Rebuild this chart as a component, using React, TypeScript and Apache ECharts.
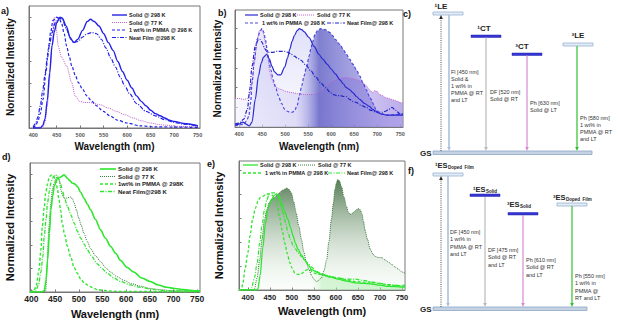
import React, { useEffect, useRef } from 'react';
import * as echarts from 'echarts';

type P = [number, number][];
const FONT = 'Liberation Sans, Arial, sans-serif';

const xTicks = [400, 450, 500, 550, 600, 650, 700, 750];
const yTicks = [0.2, 0.4, 0.6, 0.8, 1.0];
const xTitle = 'Wavelength (nm)';
const yTitle = 'Normalized Intensity';

// ---- panel a
const aSolid298: P = [[400,0],[415,0],[420,0.02],[425,0.08],[430,0.25],[435,0.5],[440,0.74],[445,0.87],[450,0.95],[457,1.0],[462,0.99],[470,0.92],[480,0.8],[487,0.77],[495,0.8],[505,0.88],[515,0.96],[522,0.98],[530,0.96],[540,0.92],[550,0.85],[560,0.77],[570,0.7],[580,0.6],[590,0.51],[600,0.43],[610,0.36],[620,0.29],[630,0.24],[640,0.2],[650,0.16],[660,0.13],[670,0.11],[680,0.09],[690,0.07],[700,0.06],[720,0.04],[750,0.02]];
const aSolid77: P = [[400,0],[420,0.01],[425,0.05],[430,0.2],[435,0.45],[440,0.75],[445,1.0],[449,0.9],[453,0.74],[460,0.64],[471,0.56],[482,0.41],[489,0.29],[499,0.24],[510,0.23],[521,0.23],[530,0.22],[542,0.21],[560,0.18],[577,0.15],[595,0.12],[613,0.09],[630,0.065],[649,0.045],[670,0.03],[684,0.025],[710,0.015],[750,0.01]];
const aPmma298: P = [[400,0],[405,0.02],[410,0.06],[415,0.13],[421,0.26],[427,0.5],[432,0.71],[437,0.86],[442,0.97],[450,1.0],[455,0.99],[460,0.95],[466,0.85],[471,0.74],[477,0.64],[482,0.56],[490,0.47],[496,0.41],[505,0.35],[514,0.29],[525,0.24],[535,0.2],[549,0.15],[563,0.11],[580,0.07],[599,0.045],[627,0.02],[660,0.01],[750,0.005]];
const aNeat298: P = [[400,0.01],[405,0.04],[410,0.1],[415,0.2],[420,0.33],[425,0.48],[430,0.63],[435,0.76],[440,0.86],[447,0.95],[455,0.99],[462,0.98],[470,0.9],[478,0.82],[486,0.77],[495,0.78],[505,0.82],[515,0.85],[525,0.86],[535,0.85],[545,0.8],[555,0.72],[565,0.63],[575,0.55],[585,0.46],[595,0.38],[605,0.31],[620,0.22],[640,0.15],[660,0.11],[680,0.075],[700,0.05],[720,0.035],[750,0.02]];

// ---- panel b
const bSolid298: P = [[391,0.02],[400,0.03],[408,0.05],[415,0.03],[422,0.01],[428,0.05],[435,0.28],[442,0.52],[448,0.65],[453,0.71],[460,0.74],[466,0.69],[471,0.62],[477,0.56],[484,0.53],[490,0.53],[499,0.61],[505,0.7],[510,0.79],[515,0.87],[520,0.93],[526,0.98],[531,1.0],[536,0.99],[541,0.97],[552,0.91],[563,0.82],[573,0.74],[582,0.69],[591,0.64],[600,0.59],[609,0.54],[619,0.48],[626,0.44],[633,0.4],[640,0.38],[647,0.35],[655,0.31],[662,0.28],[672,0.24],[683,0.21],[690,0.18],[697,0.16],[704,0.14],[711,0.13],[722,0.12],[732,0.12],[750,0.12],[756,0.12]];
const bSolid77: P = [[391,0.29],[400,0.29],[410,0.28],[418,0.29],[424,0.35],[428,0.45],[433,0.65],[439,0.89],[444,0.98],[448,1.0],[452,0.96],[457,0.86],[462,0.72],[467,0.55],[472,0.47],[478,0.42],[485,0.39],[492,0.38],[502,0.36],[513,0.35],[527,0.34],[541,0.33],[552,0.33],[563,0.33],[572,0.35],[580,0.37],[589,0.41],[598,0.45],[605,0.47],[612,0.48],[619,0.49],[626,0.5],[636,0.5],[647,0.49],[655,0.48],[662,0.47],[669,0.45],[676,0.42],[683,0.38],[690,0.35],[694,0.37],[700,0.36],[705,0.33],[711,0.32],[718,0.3],[725,0.29],[732,0.28],[739,0.27],[745,0.26],[750,0.25],[756,0.24]];
const bPmma298: P = [[391,0.01],[400,0.02],[410,0.03],[416,0.06],[421,0.11],[425,0.25],[428,0.45],[433,0.68],[439,0.89],[446,0.98],[450,1.0],[454,0.96],[457,0.89],[461,0.79],[464,0.69],[469,0.58],[474,0.48],[480,0.39],[485,0.32],[492,0.24],[499,0.18],[505,0.16],[510,0.15],[515,0.15],[520,0.16],[526,0.22],[531,0.32],[536,0.42],[541,0.52],[547,0.62],[552,0.72],[556,0.8],[559,0.86],[565,0.94],[570,0.98],[577,1.0],[587,0.99],[598,0.96],[603,0.93],[609,0.89],[619,0.84],[626,0.79],[633,0.74],[640,0.69],[647,0.64],[655,0.58],[662,0.52],[669,0.45],[676,0.38],[683,0.31],[687,0.28],[692,0.23],[697,0.18],[704,0.15],[711,0.13],[725,0.12],[740,0.125],[750,0.13],[756,0.13]];
const bNeat298: P = [[391,0.03],[400,0.04],[410,0.08],[418,0.18],[423,0.38],[428,0.62],[435,0.82],[442,0.89],[446,0.89],[450,0.86],[455,0.8],[460,0.77],[466,0.76],[474,0.76],[482,0.77],[490,0.77],[499,0.77],[506,0.76],[513,0.74],[520,0.72],[527,0.7],[534,0.68],[545,0.63],[556,0.57],[566,0.51],[577,0.45],[588,0.4],[598,0.35],[605,0.33],[612,0.32],[620,0.32],[627,0.31],[633,0.31],[640,0.28],[647,0.26],[654,0.25],[665,0.22],[676,0.2],[686,0.17],[697,0.15],[704,0.15],[711,0.15],[718,0.16],[725,0.18],[732,0.2],[740,0.17],[750,0.13],[756,0.13]];

// ---- panel d
const dSolid298: P = [[397,0],[420,0],[427,0.01],[431,0.1],[434,0.27],[438,0.5],[441,0.7],[445,0.82],[448,0.9],[452,0.94],[455,0.97],[462,0.98],[469,1.0],[476,0.97],[481,0.95],[486,0.93],[492,0.92],[497,0.9],[504,0.85],[511,0.8],[518,0.75],[525,0.7],[535,0.62],[546,0.53],[556,0.46],[567,0.39],[578,0.33],[588,0.27],[602,0.21],[616,0.17],[633,0.12],[651,0.09],[668,0.06],[686,0.04],[703,0.03],[721,0.02],[750,0.01],[756,0.01]];
const dSolid77: P = [[397,0],[425,0],[430,0.01],[433,0.2],[437,0.56],[441,0.75],[444,0.87],[448,0.93],[451,0.96],[456,0.99],[459,0.95],[462,0.87],[466,0.82],[469,0.8],[473,0.8],[476,0.8],[480,0.81],[483,0.81],[487,0.79],[490,0.76],[495,0.7],[500,0.63],[505,0.57],[511,0.5],[518,0.43],[525,0.37],[535,0.31],[546,0.26],[556,0.21],[567,0.17],[581,0.13],[595,0.1],[612,0.07],[630,0.05],[651,0.03],[672,0.02],[700,0.01],[756,0.01]];
const dPmma298: P = [[397,0],[405,0.01],[410,0.05],[416,0.19],[420,0.36],[423,0.56],[427,0.72],[430,0.84],[434,0.92],[437,0.97],[441,0.995],[444,1.0],[448,0.98],[451,0.96],[455,0.88],[458,0.79],[462,0.69],[465,0.59],[470,0.49],[476,0.39],[483,0.3],[490,0.21],[497,0.16],[504,0.11],[511,0.08],[518,0.06],[528,0.04],[539,0.02],[560,0.01],[581,0.005],[756,0]];
const dNeat298: P = [[397,0],[409,0.01],[415,0.06],[420,0.17],[424,0.3],[427,0.47],[431,0.62],[434,0.76],[438,0.86],[441,0.93],[445,0.97],[448,0.99],[451,1.0],[455,0.98],[458,0.96],[462,0.92],[465,0.87],[470,0.8],[476,0.73],[483,0.66],[490,0.59],[497,0.52],[504,0.46],[511,0.41],[518,0.36],[528,0.3],[539,0.24],[549,0.2],[560,0.16],[574,0.12],[588,0.09],[609,0.06],[630,0.04],[658,0.02],[686,0.01],[756,0.005]];

// ---- panel e
const eSolid298: P = [[380,0],[420,0],[423,0.01],[428,0.12],[434,0.35],[440,0.55],[446,0.68],[453,0.75],[461,0.79],[465,0.8],[470,0.79],[476,0.73],[483,0.66],[491,0.59],[497,0.52],[503,0.45],[508,0.39],[514,0.34],[522,0.29],[529,0.25],[537,0.21],[545,0.17],[556,0.15],[567,0.13],[586,0.11],[605,0.09],[624,0.075],[644,0.06],[663,0.055],[682,0.05],[700,0.04],[720,0.03],[750,0.025],[757,0.025]];
const eSolid77: P = [[380,0],[412,0],[415,0.01],[421,0.1],[427,0.25],[432,0.42],[438,0.59],[443,0.67],[449,0.73],[455,0.76],[461,0.77],[466,0.79],[472,0.81],[478,0.83],[484,0.84],[488,0.85],[493,0.84],[499,0.81],[504,0.74],[510,0.64],[516,0.53],[522,0.42],[527,0.32],[533,0.23],[539,0.17],[545,0.12],[550,0.09],[556,0.07],[561,0.08],[567,0.1],[573,0.16],[579,0.25],[584,0.4],[590,0.59],[594,0.72],[598,0.84],[601,0.89],[604,0.92],[608,0.91],[613,0.86],[618,0.78],[624,0.7],[628,0.65],[632,0.63],[638,0.64],[644,0.66],[651,0.68],[655,0.67],[659,0.64],[663,0.57],[666,0.5],[672,0.42],[678,0.34],[684,0.3],[689,0.28],[697,0.27],[704,0.27],[712,0.25],[720,0.23],[728,0.21],[735,0.19],[743,0.17],[750,0.15],[757,0.14]];
const ePmma298: P = [[380,0],[385,0],[389,0.06],[394,0.18],[400,0.31],[405,0.45],[411,0.59],[417,0.68],[423,0.74],[428,0.77],[434,0.78],[442,0.8],[449,0.8],[455,0.79],[461,0.77],[466,0.72],[472,0.61],[478,0.5],[484,0.39],[490,0.3],[495,0.23],[501,0.18],[507,0.14],[513,0.13],[518,0.13],[524,0.14],[529,0.16],[535,0.17],[541,0.17],[547,0.15],[552,0.14],[560,0.13],[567,0.13],[586,0.11],[605,0.1],[624,0.085],[644,0.07],[663,0.065],[682,0.065],[700,0.055],[720,0.04],[740,0.035],[757,0.04]];
const eNeat298: P = [[380,0],[405,0],[408,0.01],[415,0.1],[421,0.22],[427,0.39],[432,0.53],[438,0.67],[443,0.75],[449,0.8],[455,0.81],[461,0.81],[465,0.8],[469,0.78],[474,0.72],[480,0.64],[486,0.56],[491,0.48],[497,0.42],[503,0.37],[509,0.34],[514,0.31],[522,0.28],[529,0.25],[537,0.22],[545,0.19],[554,0.16],[564,0.14],[580,0.12],[605,0.1],[624,0.09],[644,0.09],[663,0.08],[682,0.065],[700,0.055],[720,0.045],[750,0.035],[757,0.035]];

const legendA = ['Solid @ 298 K', 'Solid @ 77 K', '1 wt% in PMMA @ 298 K', 'Neat Film @298 K'];
const legendB = ['Solid @ 298 K', 'Solid @ 77 K', '1 wt% in PMMA @ 298 K', 'Neat Film@ 298 K'];
const legendD = ['Solid @ 298 K', 'Solid @ 77 K', '1wt% in PMMA @ 298K', 'Neat Film@298 K'];
const legendE = ['Solid @ 298 K', 'Solid @ 77 K', '1 wt% in PMMA @ 298 K', 'Neat Film@ 298 K'];

const DASH = [3, 2];
const DOT = [1, 1];
const DASHDOT = [4, 1.5, 1, 1.5];

const BLUE = '#2222e6';
const MAG = '#c060d0';
const GREEN = '#2ee62e';
const DKGREEN = '#3a7a3a';

const grids = [
  { left: 29, top: 6, width: 171, height: 122 },
  { left: 235, top: 10, width: 168, height: 117 },
  { left: 30, top: 163, width: 170, height: 129 },
  { left: 239, top: 161, width: 166, height: 129 },
];
const xr = [[391, 755], [391, 756], [397, 756], [380, 757]];
const ymax = [1.1, 1.19, 1.1, 1.075];

function txt(x: number, y: number, text: string, size: number, opts: any = {}) {
  return {
    type: 'text', x, y, silent: true, z: 10,
    style: {
      text, fill: opts.fill || '#333', fontSize: size, fontWeight: opts.weight || 'normal',
      fontFamily: FONT, textAlign: opts.align || 'left',
      textVerticalAlign: 'middle', verticalAlign: 'middle',
    },
  };
}
function seg(x1: number, y1: number, x2: number, y2: number, color: string, w: number, dash?: number[]) {
  return { type: 'line', silent: true, z: 10, shape: { x1, y1, x2, y2 }, style: { stroke: color, lineWidth: w, lineDash: dash } };
}
function arrow(x: number, y1: number, y2: number, color: string, w: number, dash?: number[]) {
  const s = y2 > y1 ? 1 : -1;
  return [
    seg(x, y1, x, y2 - s * 3, color, w, dash),
    { type: 'polygon', silent: true, z: 10, shape: { points: [[x - 1.8, y2 - s * 4], [x + 1.8, y2 - s * 4], [x, y2]] }, style: { fill: color } },
  ];
}
function bar(x: number, y: number, w: number, h: number, kind: 'light' | 'dark' | 'gs') {
  const st = kind === 'dark' ? { fill: '#3535d4', stroke: '#2525b0', lineWidth: 0.5 }
    : kind === 'gs' ? { fill: '#c4d2e4', stroke: '#8ea6c4', lineWidth: 0.8 }
    : { fill: '#e2ebf6', stroke: '#9ab4d4', lineWidth: 0.8 };
  return { type: 'rect', silent: true, z: 10, shape: { x, y, width: w, height: h }, style: st };
}
function legendItem(x: number, y: number, len: number, color: string, dash: number[] | undefined, w: number, text: string, size: number) {
  return [seg(x, y, x + len, y, color, w, dash), txt(x + len + 2, y, text, size, { weight: 'bold', fill: '#222' })];
}

export default function App() {
  const ref = useRef<HTMLDivElement>(null);
  useEffect(() => {
    if (!ref.current) return;
    const chart = echarts.init(ref.current, undefined, { renderer: 'svg' });

    const line = (data: P, idx: number, color: string, dash: any, width: number) => ({
      type: 'line', data, xAxisIndex: idx, yAxisIndex: idx, symbol: 'none', smooth: 0.3, smoothMonotone: 'x',
      lineStyle: { color, width, type: dash }, z: 3, silent: true,
    });
    const fill = (data: P, idx: number, grad: any) => ({
      type: 'line', data, xAxisIndex: idx, yAxisIndex: idx, symbol: 'none', smooth: 0.3, smoothMonotone: 'x',
      lineStyle: { width: 0, opacity: 0 }, areaStyle: { color: grad, opacity: 1 }, z: 1, silent: true,
    });
    const grad = (x2: number, y2: number, stops: [number, string][]) =>
      new echarts.graphic.LinearGradient(0, 0, x2, y2, stops.map(([offset, color]) => ({ offset, color })));

    const labelSize = [5.5, 5.5, 8.5, 7.5];
    const labelMargin = [4, 4, 2, 3];
    const nameSize = [10, 10, 11, 11];
    const xNameGap = [13, 14, 16, 15];
    const yNameGap = [14, 13, 15, 15];
    const labelColor = ['#555', '#555', '#222', '#222'];

    const xAxis = grids.map((_, i) => ({
      type: 'value', gridIndex: i, min: xr[i][0], max: xr[i][1],
      axisLine: { show: true, lineStyle: { color: '#777', width: 1 } },
      axisTick: { show: true, inside: true, length: 2.5, customValues: xTicks, lineStyle: { color: '#777' } },
      axisLabel: { customValues: xTicks, fontSize: labelSize[i], fontWeight: 'bold', color: labelColor[i], fontFamily: FONT, margin: labelMargin[i] },
      splitLine: { show: false },
      name: xTitle, nameLocation: 'middle', nameGap: xNameGap[i],
      nameTextStyle: { fontSize: nameSize[i], fontWeight: 'bold', color: '#111', fontFamily: FONT },
    }));
    const yAxis = grids.map((_, i) => ({
      type: 'value', gridIndex: i, min: 0, max: ymax[i],
      axisLine: { show: true, lineStyle: { color: '#777', width: 1 } },
      axisTick: { show: true, inside: true, length: 2.5, customValues: yTicks, lineStyle: { color: '#777' } },
      axisLabel: { show: false },
      splitLine: { show: false },
      name: yTitle, nameLocation: 'middle', nameGap: yNameGap[i],
      nameTextStyle: { fontSize: nameSize[i], fontWeight: 'bold', color: '#111', fontFamily: FONT },
    }));

    const series = [
      // a
      line(aSolid77, 0, MAG, DOT, 1),
      line(aNeat298, 0, BLUE, DASHDOT, 1.2),
      line(aPmma298, 0, BLUE, DASH, 1.2),
      line(aSolid298, 0, BLUE, 'solid', 1.4),
      // b fills
      fill(bSolid77, 1, grad(1, 0, [[0, 'rgba(240,238,252,0.5)'], [0.5, 'rgba(205,195,240,0.55)'], [1, 'rgba(165,145,228,0.75)']])),
      fill(bSolid298, 1, grad(0, 1, [[0, 'rgba(150,150,235,0.3)'], [1, 'rgba(215,215,248,0.12)']])),
      fill(bPmma298, 1, grad(1, 0, [[0, 'rgba(200,200,245,0.15)'], [0.36, 'rgba(190,190,240,0.2)'], [0.5, 'rgba(85,85,192,0.75)'], [0.68, 'rgba(105,100,205,0.62)'], [1, 'rgba(160,145,228,0.45)']])),
      line(bSolid77, 1, MAG, DOT, 1),
      line(bNeat298, 1, '#2525c8', DASHDOT, 1.2),
      line(bPmma298, 1, '#4a4ae0', DASH, 1.2),
      line(bSolid298, 1, '#2a2ad0', 'solid', 1.2),
      // d
      line(dSolid77, 2, DKGREEN, DOT, 1),
      line(dNeat298, 2, GREEN, DASHDOT, 1.3),
      line(dPmma298, 2, GREEN, DASH, 1.4),
      line(dSolid298, 2, GREEN, 'solid', 1.6),
      // e fills
      fill(ePmma298, 3, grad(1, 0, [[0, 'rgba(255,255,255,0)'], [0.42, 'rgba(255,255,255,0)'], [0.5, 'rgba(160,235,160,0.45)'], [1, 'rgba(140,230,140,0.5)']])),
      fill(eSolid77, 3, grad(0, 1, [[0, 'rgba(55,100,55,0.85)'], [0.45, 'rgba(140,170,140,0.55)'], [1, 'rgba(230,245,230,0.15)']])),
      line(eSolid77, 3, DKGREEN, DOT, 1),
      line(eNeat298, 3, GREEN, DASHDOT, 1.2),
      line(ePmma298, 3, GREEN, DASH, 1.3),
      line(eSolid298, 3, GREEN, 'solid', 1.3),
    ];

    const g: any[] = [];
    // panel letters
    g.push(txt(1, 11, 'a)', 9, { weight: 'bold', fill: '#111' }));
    g.push(txt(218, 13, 'b)', 9, { weight: 'bold', fill: '#111' }));
    g.push(txt(403, 14, 'c)', 9, { weight: 'bold', fill: '#111' }));
    g.push(txt(2, 157, 'd)', 9, { weight: 'bold', fill: '#111' }));
    g.push(txt(207, 164, 'e)', 9, { weight: 'bold', fill: '#111' }));
    g.push(txt(408, 171, 'f)', 9, { weight: 'bold', fill: '#111' }));

    // legends
    const styA: [string, number[] | undefined, number][] = [[BLUE, undefined, 1.4], [MAG, DOT, 1], [BLUE, DASH, 1.2], [BLUE, DASHDOT, 1.2]];
    [15, 22.5, 30, 37.5].forEach((y, k) => g.push(...legendItem(112, y, 15, styA[k][0], styA[k][1], styA[k][2], legendA[k], 5.5)));
    const styD: [string, number[] | undefined, number][] = [[GREEN, undefined, 1.6], [DKGREEN, DOT, 1], [GREEN, DASH, 1.4], [GREEN, DASHDOT, 1.3]];
    [169, 176.5, 184, 191.5].forEach((y, k) => g.push(...legendItem(100, y, 16, styD[k][0], styD[k][1], styD[k][2], legendD[k], 6)));
    const styB: [string, number[] | undefined, number][] = [['#2a2ad0', undefined, 1.2], [MAG, DOT, 1], ['#4a4ae0', DASH, 1.2], ['#2525c8', DASHDOT, 1.2]];
    g.push(...legendItem(245, 15, 13, styB[0][0], styB[0][1], styB[0][2], legendB[0], 5.5));
    g.push(...legendItem(295, 15, 20, styB[1][0], styB[1][1], styB[1][2], legendB[1], 5.5));
    g.push(...legendItem(245, 23, 15, styB[2][0], styB[2][1], styB[2][2], legendB[2], 5.5));
    g.push(...legendItem(327, 23, 18, styB[3][0], styB[3][1], styB[3][2], legendB[3], 5.5));
    const styE: [string, number[] | undefined, number][] = [[GREEN, undefined, 1.3], [DKGREEN, DOT, 1], [GREEN, DASH, 1.3], [GREEN, DASHDOT, 1.2]];
    g.push(...legendItem(243, 165, 15, styE[0][0], styE[0][1], styE[0][2], legendE[0], 5.5));
    g.push(...legendItem(298, 165, 18, styE[1][0], styE[1][1], styE[1][2], legendE[1], 5.5));
    g.push(...legendItem(243, 173, 20, styE[2][0], styE[2][1], styE[2][2], legendE[2], 5.5));
    g.push(...legendItem(328, 173, 17, styE[3][0], styE[3][1], styE[3][2], legendE[3], 5.5));

    // ---- panel c: energy diagram
    const LB = '#a9c1dd', GR = '#b9b9b9', PK = '#d68ad6', GN = '#2ec02e';
    g.push(bar(433, 151, 159, 3.5, 'gs'));
    g.push(txt(420, 153, 'GS', 8, { weight: 'bold', fill: '#222' }));
    g.push(bar(433, 12, 30, 3, 'light'));
    g.push(txt(441, 6, '¹LE', 8, { weight: 'bold', fill: '#222', align: 'center' }));
    g.push(bar(471, 35, 30, 2.5, 'dark'));
    g.push(txt(484, 28, '¹CT', 8, { weight: 'bold', fill: '#222', align: 'center' }));
    g.push(bar(512, 53, 30, 2.5, 'dark'));
    g.push(txt(522, 46, '³CT', 8, { weight: 'bold', fill: '#222', align: 'center' }));
    g.push(bar(563, 43, 30, 3, 'light'));
    g.push(txt(578, 35, '³LE', 8, { weight: 'bold', fill: '#222', align: 'center' }));
    g.push(...arrow(441, 151, 15, '#222', 0.8, [1, 1.2]));
    g.push(...arrow(449, 15, 151, LB, 1.6));
    g.push(...arrow(486, 37.5, 151, GR, 1.2));
    g.push(...arrow(527, 55.5, 151, PK, 1.2));
    g.push(...arrow(577, 46, 151, GN, 1.2));
    ['Fl [450 nm]', 'Solid &', '1 wt% in', 'PMMA @ RT', 'and LT'].forEach((s, k) => g.push(txt(451, 72 + k * 7, s, 5.5)));
    ['DF [520 nm]', 'Solid @ RT'].forEach((s, k) => g.push(txt(490, 92 + k * 7, s, 5.5)));
    ['Ph [630 nm]', 'Solid @ LT'].forEach((s, k) => g.push(txt(530, 103 + k * 7, s, 5.5)));
    ['Ph [580 nm]', '1 wt% in', 'PMMA @ RT', 'and LT'].forEach((s, k) => g.push(txt(580, 118 + k * 7, s, 5.5)));

    // ---- panel f
    g.push(bar(433, 307, 154, 3.5, 'gs'));
    g.push(txt(420, 309, 'GS', 8, { weight: 'bold', fill: '#222' }));
    g.push(bar(433, 173, 30, 3, 'light'));
    g.push(txt(435, 165, '¹ES', 7.5, { weight: 'bold', fill: '#222' }));
    g.push(txt(448, 167, 'Doped  Film', 4.5, { weight: 'bold', fill: '#222' }));
    g.push(bar(470, 194, 30, 2.5, 'dark'));
    g.push(txt(473, 189, '¹ES', 7.5, { weight: 'bold', fill: '#222' }));
    g.push(txt(486, 191, 'Solid', 4.5, { weight: 'bold', fill: '#222' }));
    g.push(bar(508, 212.5, 30, 2.5, 'dark'));
    g.push(txt(507, 204, '³ES', 7.5, { weight: 'bold', fill: '#222' }));
    g.push(txt(520, 206, 'Solid', 4.5, { weight: 'bold', fill: '#222' }));
    g.push(bar(557, 203, 30, 3, 'light'));
    g.push(txt(553, 197, '³ES', 7.5, { weight: 'bold', fill: '#222' }));
    g.push(txt(566, 199, 'Doped  Film', 4.5, { weight: 'bold', fill: '#222' }));
    g.push(...arrow(441, 307, 176, '#222', 0.8, [1, 1.2]));
    g.push(...arrow(448, 176, 307, LB, 1.6));
    g.push(...arrow(485, 197, 307, GR, 1.2));
    g.push(...arrow(523, 215, 307, PK, 1.2));
    g.push(...arrow(572, 206, 307, GN, 1.2));
    ['DF [450 nm]', '1 wt% in', 'PMMA @ RT', 'and LT'].forEach((s, k) => g.push(txt(450, 232 + k * 7.3, s, 5.5)));
    ['DF [475 nm]', 'Solid @ RT', 'and LT'].forEach((s, k) => g.push(txt(488, 250 + k * 7.3, s, 5.5)));
    ['Ph [610 nm]', 'Solid @ RT', 'and LT'].forEach((s, k) => g.push(txt(526, 260 + k * 7.3, s, 5.5)));
    ['Ph [550 nm]', '1 wt% in', 'PMMA @', 'RT and LT'].forEach((s, k) => g.push(txt(575, 276 + k * 7.3, s, 5.5)));

    chart.setOption({
      animation: false,
      backgroundColor: '#fff',
      grid: grids.map((gr) => ({ ...gr, show: true, borderColor: '#777', borderWidth: 1, backgroundColor: 'transparent', containLabel: false })),
      xAxis, yAxis, series, graphic: g,
    });
    return () => chart.dispose();
  }, []);
  return <div ref={ref} style={{ position: 'fixed', left: 0, top: 0, width: 618, height: 323 }} />;
}
